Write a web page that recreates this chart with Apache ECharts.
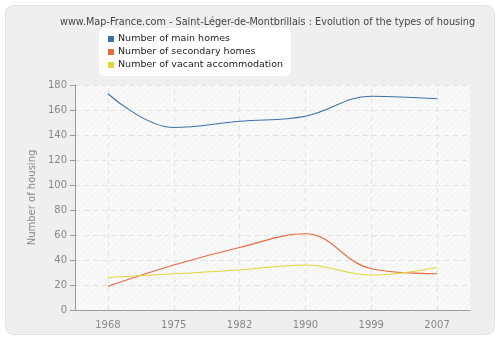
<!DOCTYPE html>
<html><head><meta charset="utf-8">
<script src="https://cdn.jsdelivr.net/npm/echarts@6/dist/echarts.min.js"></script>
<style>html,body{margin:0;padding:0;background:#fff}#c{width:500px;height:340px}</style>
</head><body><div id="c"></div>
<script>
var years = ['1968','1975','1982','1990','1999','2007'];
var mainHomes = [173, 146, 151, 155, 171, 169];
var secondaryHomes = [19, 36, 50, 61, 33, 29];
var vacant = [26, 29, 32, 36, 28, 34];
var yTicks = [0,20,40,60,80,100,120,140,160,180];

var pc = document.createElement('canvas');
pc.width = 6; pc.height = 6;
var g = pc.getContext('2d');
g.fillStyle = '#f9f9f9'; g.fillRect(0,0,6,6);
g.strokeStyle = '#f0f0f0'; g.lineWidth = 1;
g.beginPath(); g.moveTo(0,6); g.lineTo(6,0); g.stroke();
g.beginPath(); g.moveTo(-1,1); g.lineTo(1,-1); g.stroke();
g.beginPath(); g.moveTo(5,7); g.lineTo(7,5); g.stroke();

var font = 'DejaVu Sans';
var gridLine = {color:'#e2e2e2', type:[5,4], width:1};
var chart = echarts.init(document.getElementById('c'), null, {renderer:'canvas'});
chart.setOption({
  animation:false,
  backgroundColor:'#fff',
  graphic:[{type:'rect', z:-10, shape:{x:5.5,y:5.5,width:489,height:329,r:8}, style:{fill:'#efefef', stroke:'#e2e2e2', lineWidth:1}}],
  title:{text:'www.Map-France.com - Saint-Léger-de-Montbrillais : Evolution of the types of housing', left:55, top:12,
    textStyle:{fontFamily:font, fontSize:9.7, fontWeight:'normal', color:'#444'}},
  legend:{orient:'vertical', left:99, top:28, itemWidth:6, itemHeight:6, itemGap:3, padding:[6,8,6,9],
    backgroundColor:'#fff', borderRadius:6, icon:'rect',
    textStyle:{fontFamily:font, fontSize:9.5, color:'#222', padding:[0,0,0,-1]},
    data:['Number of main homes','Number of secondary homes','Number of vacant accommodation']},
  grid:{left:75, right:30, top:85, bottom:30, show:true, backgroundColor:{image:pc, repeat:'repeat'}, borderWidth:0},
  xAxis:{type:'category', data:years, boundaryGap:true,
    axisLine:{lineStyle:{color:'#999'}}, axisTick:{alignWithLabel:true, length:5, lineStyle:{color:'#999'}},
    axisLabel:{fontFamily:font, fontSize:10, color:'#888', margin:10},
    splitLine:{show:false}},
  yAxis:{type:'value', min:yTicks[0], max:yTicks[yTicks.length-1], interval:20,
    name:'Number of housing', nameLocation:'middle', nameGap:34, nameTextStyle:{fontFamily:font, fontSize:10, color:'#888'},
    axisLine:{show:true, lineStyle:{color:'#999'}}, axisTick:{show:true, length:5, lineStyle:{color:'#999'}},
    axisLabel:{fontFamily:font, fontSize:10, color:'#888', margin:8},
    splitLine:{show:true, lineStyle:gridLine}},
  series:[
    {name:'Number of main homes', type:'line', smooth:0.4, data:mainHomes, showSymbol:false, symbol:'none', color:'#3f6fa6', lineStyle:{width:1.1},
      markLine:{silent:true, symbol:'none', label:{show:false}, lineStyle:gridLine, z:1,
        data: years.map(function(y){return {xAxis:y};})}},
    {name:'Number of secondary homes', type:'line', smooth:0.4, data:secondaryHomes, showSymbol:false, symbol:'none', color:'#e8693c', lineStyle:{width:1.1}},
    {name:'Number of vacant accommodation', type:'line', smooth:0.4, data:vacant, showSymbol:false, symbol:'none', color:'#e3d43a', lineStyle:{width:1.1}}
  ]
});
</script></body></html>
